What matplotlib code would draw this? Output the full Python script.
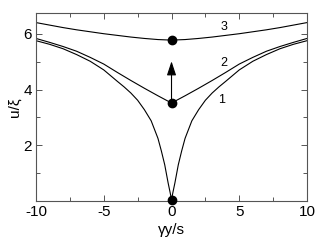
import matplotlib
matplotlib.use("Agg")
import matplotlib.pyplot as plt
from matplotlib.ticker import MultipleLocator

plt.rcParams['font.family'] = ['Liberation Sans', 'DejaVu Sans']
plt.rcParams['axes.unicode_minus'] = False

# curve 1 (cusp), right half, mirrored for left half
x1_half = [0, 0.1, 0.25, 0.5, 0.75, 1, 1.5, 2, 2.5, 3, 3.5, 4, 5, 6, 7, 8, 9, 10]
y1_half = [0.05, 0.30, 0.65, 1.30, 1.80, 2.25, 2.88, 3.28, 3.62, 3.88, 4.10, 4.30,
           4.71, 5.02, 5.26, 5.47, 5.63, 5.76]
x1 = [-v for v in x1_half[:0:-1]] + x1_half
y1 = y1_half[:0:-1] + y1_half

# curve 2
x2 = [-10, -9, -8, -7, -6, -5, -4, -3, -2, -1, 0, 1, 2, 3, 4, 5, 6, 7, 8, 9, 10]
y2 = [5.84, 5.70, 5.55, 5.38, 5.16, 4.92, 4.62, 4.33, 4.05, 3.78, 3.52,
      3.78, 4.05, 4.33, 4.62, 4.92, 5.16, 5.38, 5.55, 5.70, 5.84]
# curve 3
x3 = [-10, -9, -8, -7, -6, -5, -4, -3, -2, -1, 0, 1, 2, 3, 4, 5, 6, 7, 8, 9, 10]
y3 = [6.41, 6.32, 6.23, 6.15, 6.08, 6.01, 5.95, 5.89, 5.84, 5.80, 5.78,
      5.80, 5.84, 5.89, 5.95, 6.01, 6.08, 6.15, 6.23, 6.32, 6.41]

dot_x = [0, 0, 0]
dot_y = [0.05, 3.52, 5.78]
arrow_from = (0, 3.52)
arrow_to = (0, 5.02)

labels = ["1", "2", "3"]
label_x = [3.7, 3.87, 3.87]
label_y = [3.63, 4.95, 6.24]

fig = plt.figure(figsize=(3.27, 2.48), dpi=100)
ax = fig.add_axes([0.110, 0.1895, 0.829, 0.7565])

for xs, ys in [(x1, y1), (x2, y2), (x3, y3)]:
    ax.plot(xs, ys, color='black', lw=0.8)

ax.plot(dot_x, dot_y, 'o', color='black', markersize=6, clip_on=False, zorder=5)
ax.annotate('', xy=arrow_to, xytext=arrow_from,
            arrowprops=dict(arrowstyle='-|>,head_length=0.85,head_width=0.28',
                            color='black', lw=0.8, shrinkA=0, shrinkB=0,
                            mutation_scale=10))

for t, lx, ly in zip(labels, label_x, label_y):
    ax.text(lx, ly, t, fontsize=9, ha='center', va='center')

ax.set_xlim(-10, 10)
ax.set_ylim(0, 6.74)
ax.set_xticks([-10, -5, 0, 5, 10])
ax.set_yticks([2, 4, 6])
ax.xaxis.set_minor_locator(MultipleLocator(2.5))
ax.yaxis.set_minor_locator(MultipleLocator(1))
ax.tick_params(which='both', direction='in', top=True, right=True,
               labelsize=11, color='#555555', width=0.7)
ax.tick_params(which='major', length=4.5, pad=3)
ax.tick_params(which='minor', length=3)
for s in ax.spines.values():
    s.set_color('#555555')
    s.set_linewidth(0.8)

ax.set_xlabel('γy/s', fontsize=11, labelpad=3)
ax.set_ylabel('u/ξ', fontsize=11, labelpad=1)

fig.savefig('out.png', dpi=100)
